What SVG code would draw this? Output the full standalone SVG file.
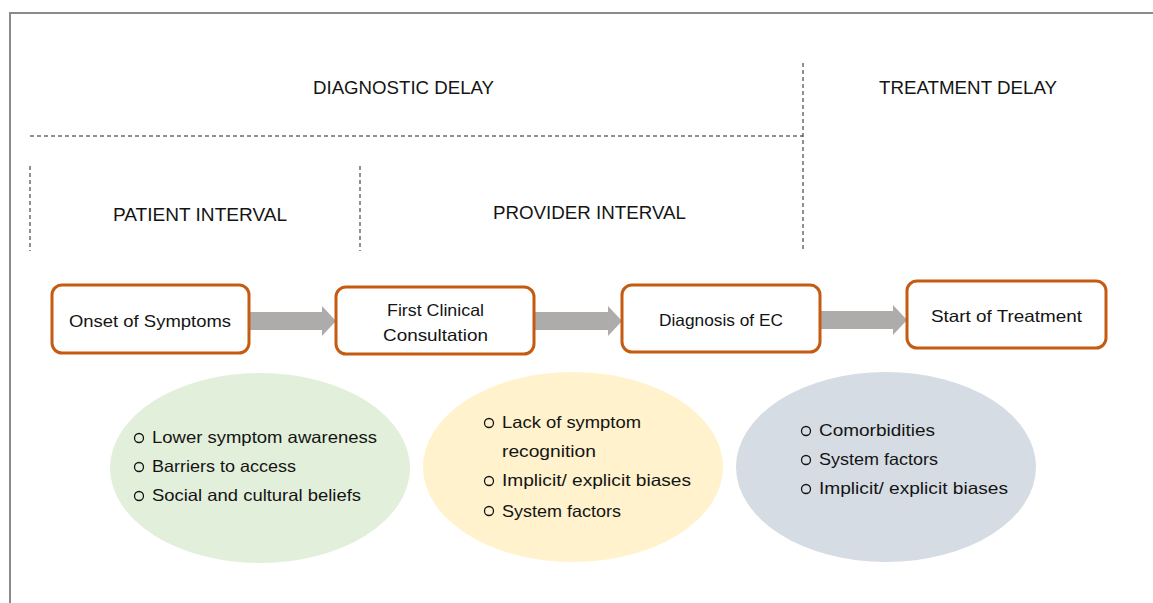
<svg xmlns="http://www.w3.org/2000/svg" width="1153" height="603" viewBox="0 0 1153 603">
<defs>
<style>
text{font-family:"Liberation Sans",Arial,sans-serif;fill:#141414}
.hd{font-size:18px}
.bx{font-size:16.5px}
.bl{font-size:16.5px}
.node rect{fill:#fff;stroke:#C55A11;stroke-width:3}
.dash{stroke:#222;stroke-width:1;stroke-dasharray:4 3;fill:none}
.arr{fill:#AEABAB}
.bul{fill:none;stroke:#141414;stroke-width:1.3}
</style>
</defs>
<rect width="1153" height="603" fill="#fff"/>
<path d="M10 603 V13 H1153" fill="none" stroke="#8a8a8a" stroke-width="2"/>
<g id="guides">
<line class="dash" x1="30" y1="136" x2="803" y2="136"/>
<line class="dash" x1="803" y1="63" x2="803" y2="251"/>
<line class="dash" x1="30" y1="166" x2="30" y2="251"/>
<line class="dash" x1="360" y1="166" x2="360" y2="251"/>
</g>
<g id="labels">
<text class="hd" x="313" y="94" textLength="181" lengthAdjust="spacingAndGlyphs">DIAGNOSTIC DELAY</text>
<text class="hd" x="879" y="94" textLength="178" lengthAdjust="spacingAndGlyphs">TREATMENT DELAY</text>
<text class="hd" x="113" y="221" textLength="174" lengthAdjust="spacingAndGlyphs">PATIENT INTERVAL</text>
<text class="hd" x="493" y="219" textLength="193" lengthAdjust="spacingAndGlyphs">PROVIDER INTERVAL</text>
</g>
<g id="connectors">
<polygon class="arr" points="250,312 322,312 322,306 336,321 322,336 322,330 250,330"/>
<polygon class="arr" points="534,312 608,312 608,306 622,321 608,336 608,330 534,330"/>
<polygon class="arr" points="820,311 893,311 893,305 907,320 893,335 893,329 820,329"/>
</g>
<g id="n1" class="node"><rect x="52" y="285" width="197" height="68" rx="10"/><text class="bx" x="69" y="327" textLength="162" lengthAdjust="spacingAndGlyphs">Onset of Symptoms</text></g>
<g id="n2" class="node"><rect x="336" y="287" width="198" height="67" rx="10"/><text class="bx" x="387" y="316" textLength="97" lengthAdjust="spacingAndGlyphs">First Clinical</text><text class="bx" x="383" y="341" textLength="105" lengthAdjust="spacingAndGlyphs">Consultation</text></g>
<g id="n3" class="node"><rect x="622" y="285" width="198" height="67" rx="10"/><text class="bx" x="659" y="326" textLength="124" lengthAdjust="spacingAndGlyphs">Diagnosis of EC</text></g>
<g id="n4" class="node"><rect x="907" y="281" width="199" height="67" rx="10"/><text class="bx" x="931" y="322" textLength="151" lengthAdjust="spacingAndGlyphs">Start of Treatment</text></g>
<g id="e1">
<ellipse cx="260" cy="468" rx="150" ry="95" fill="#E2EFDA"/>
<circle class="bul" cx="139" cy="438" r="4.5"/><text class="bl" x="152" y="443" textLength="225" lengthAdjust="spacingAndGlyphs">Lower symptom awareness</text>
<circle class="bul" cx="139" cy="467" r="4.5"/><text class="bl" x="152" y="472" textLength="144" lengthAdjust="spacingAndGlyphs">Barriers to access</text>
<circle class="bul" cx="139" cy="496" r="4.5"/><text class="bl" x="152" y="501" textLength="209" lengthAdjust="spacingAndGlyphs">Social and cultural beliefs</text>
</g>
<g id="e2">
<ellipse cx="573" cy="467" rx="150" ry="95" fill="#FFF2CC"/>
<circle class="bul" cx="489" cy="423" r="4.5"/><text class="bl" x="502" y="428" textLength="139" lengthAdjust="spacingAndGlyphs">Lack of symptom</text>
<text class="bl" x="502" y="457" textLength="94" lengthAdjust="spacingAndGlyphs">recognition</text>
<circle class="bul" cx="489" cy="481" r="4.5"/><text class="bl" x="502" y="486" textLength="189" lengthAdjust="spacingAndGlyphs">Implicit/ explicit biases</text>
<circle class="bul" cx="489" cy="511" r="4.5"/><text class="bl" x="502" y="517" textLength="119" lengthAdjust="spacingAndGlyphs">System factors</text>
</g>
<g id="e3">
<ellipse cx="886" cy="467" rx="150" ry="95" fill="#D6DCE4"/>
<circle class="bul" cx="806" cy="431" r="4.5"/><text class="bl" x="819" y="436" textLength="116" lengthAdjust="spacingAndGlyphs">Comorbidities</text>
<circle class="bul" cx="806" cy="460" r="4.5"/><text class="bl" x="819" y="465" textLength="119" lengthAdjust="spacingAndGlyphs">System factors</text>
<circle class="bul" cx="806" cy="489" r="4.5"/><text class="bl" x="819" y="494" textLength="189" lengthAdjust="spacingAndGlyphs">Implicit/ explicit biases</text>
</g>
</svg>
